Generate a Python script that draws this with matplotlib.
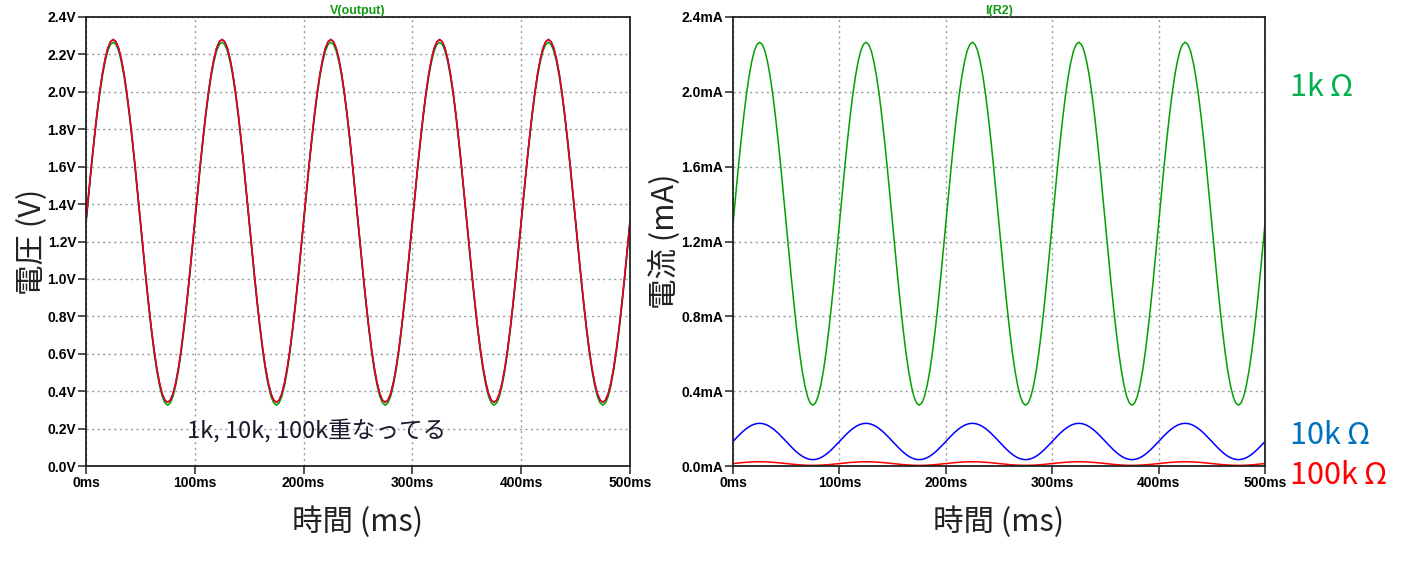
import numpy as np
import matplotlib
matplotlib.use('Agg')
from matplotlib import pyplot as plt

plt.rcParams['font.family'] = ['Noto Sans CJK JP', 'DejaVu Sans']

v_1k_period = [1.295, 1.447, 1.595, 1.735, 1.865, 1.981, 2.080, 2.159, 2.218, 2.253,
               2.265, 2.253, 2.218, 2.159, 2.080, 1.981, 1.865, 1.735, 1.595, 1.447,
               1.295, 1.143, 0.995, 0.855, 0.725, 0.609, 0.510, 0.431, 0.372, 0.337,
               0.325, 0.337, 0.372, 0.431, 0.510, 0.609, 0.725, 0.855, 0.995, 1.143]
v_100k_period = [1.310, 1.462, 1.610, 1.750, 1.880, 1.996, 2.095, 2.174, 2.233, 2.268,
                 2.280, 2.268, 2.233, 2.174, 2.095, 1.996, 1.880, 1.750, 1.610, 1.462,
                 1.310, 1.158, 1.010, 0.870, 0.740, 0.624, 0.525, 0.446, 0.387, 0.352,
                 0.340, 0.352, 0.387, 0.446, 0.525, 0.624, 0.740, 0.870, 1.010, 1.158]
n_periods = 5
step_ms = 2.5
resistances_k = [1, 10, 100]
labels = ['1k\u2009Ω', '10k\u2009Ω', '100k\u2009Ω']
volt_ticks = [0.0, 0.2, 0.4, 0.6, 0.8, 1.0, 1.2, 1.4, 1.6, 1.8, 2.0, 2.2, 2.4]
amp_ticks = [0.0, 0.4, 0.8, 1.2, 1.6, 2.0, 2.4]
time_ticks = [0, 100, 200, 300, 400, 500]

GREEN = '#00a000'
BLUE = '#0000ff'
RED = '#ff0000'

v_1k = np.append(np.tile(v_1k_period, n_periods), v_1k_period[0])
v_100k = np.append(np.tile(v_100k_period, n_periods), v_100k_period[0])
v_10k = v_100k
t = np.arange(len(v_1k)) * step_ms
voltages = [v_1k, v_10k, v_100k]
colors = [GREEN, BLUE, RED]

fig = plt.figure(figsize=(14.13, 5.64), dpi=100)
ax1 = fig.add_axes([86 / 1413, 1 - 466 / 564, 544 / 1413, 449 / 564])
ax2 = fig.add_axes([733 / 1413, 1 - 466 / 564, 532 / 1413, 449 / 564])

tick_font = dict(family='Liberation Sans', weight='bold', size=10)


def style_axes(ax, yticks, yfmt, title):
    ax.set_xlim(0, 500)
    ax.set_ylim(yticks[0], yticks[-1])
    ax.set_xticks(time_ticks)
    ax.set_xticklabels([f'{x}ms' for x in time_ticks], fontdict=tick_font)
    ax.set_yticks(yticks)
    ax.set_yticklabels([yfmt.format(y) for y in yticks], fontdict=tick_font)
    ax.tick_params(direction='out', length=6, width=1.2, color='#333333', pad=1)
    ax.grid(True, linestyle=(0, (1.5, 2.5)), color='#999999', linewidth=1)
    for s in ax.spines.values():
        s.set_linewidth(1.3)
        s.set_color('#222222')
    ax.set_title(title, color='#139a13', fontdict=dict(family='Liberation Sans',
                 weight='bold', size=9), pad=2)
    ax.set_xlabel('時間 (ms)', fontsize=22, labelpad=12, color='#222222')


for v, c in zip(voltages, colors):
    ax1.plot(t, v, color=c, linewidth=1.1)
style_axes(ax1, volt_ticks, '{:.1f}V', 'V(output)')
ax1.set_ylabel('電圧 (V)', fontsize=22, labelpad=0, color='#222222')
ax1.text(93, 0.19, '1k, 10k, 100k重なってる', fontsize=17, color='#1a1a2e',
         va='center')

for v, c, r in zip(voltages, colors, resistances_k):
    ax2.plot(t, v / r, color=c, linewidth=1.1)
style_axes(ax2, amp_ticks, '{:.1f}mA', 'I(R2)')
ax2.set_ylabel('電流 (mA)', fontsize=22, labelpad=0, color='#222222')

label_colors = ['#00b050', '#0070c0', '#ff0000']
label_y = [88, 436, 476]
for lab, c, y in zip(labels, label_colors, label_y):
    fig.text(1290 / 1413, 1 - y / 564, lab, color=c, fontsize=22,
             va='center', ha='left')

fig.savefig('out.png', dpi=100)
